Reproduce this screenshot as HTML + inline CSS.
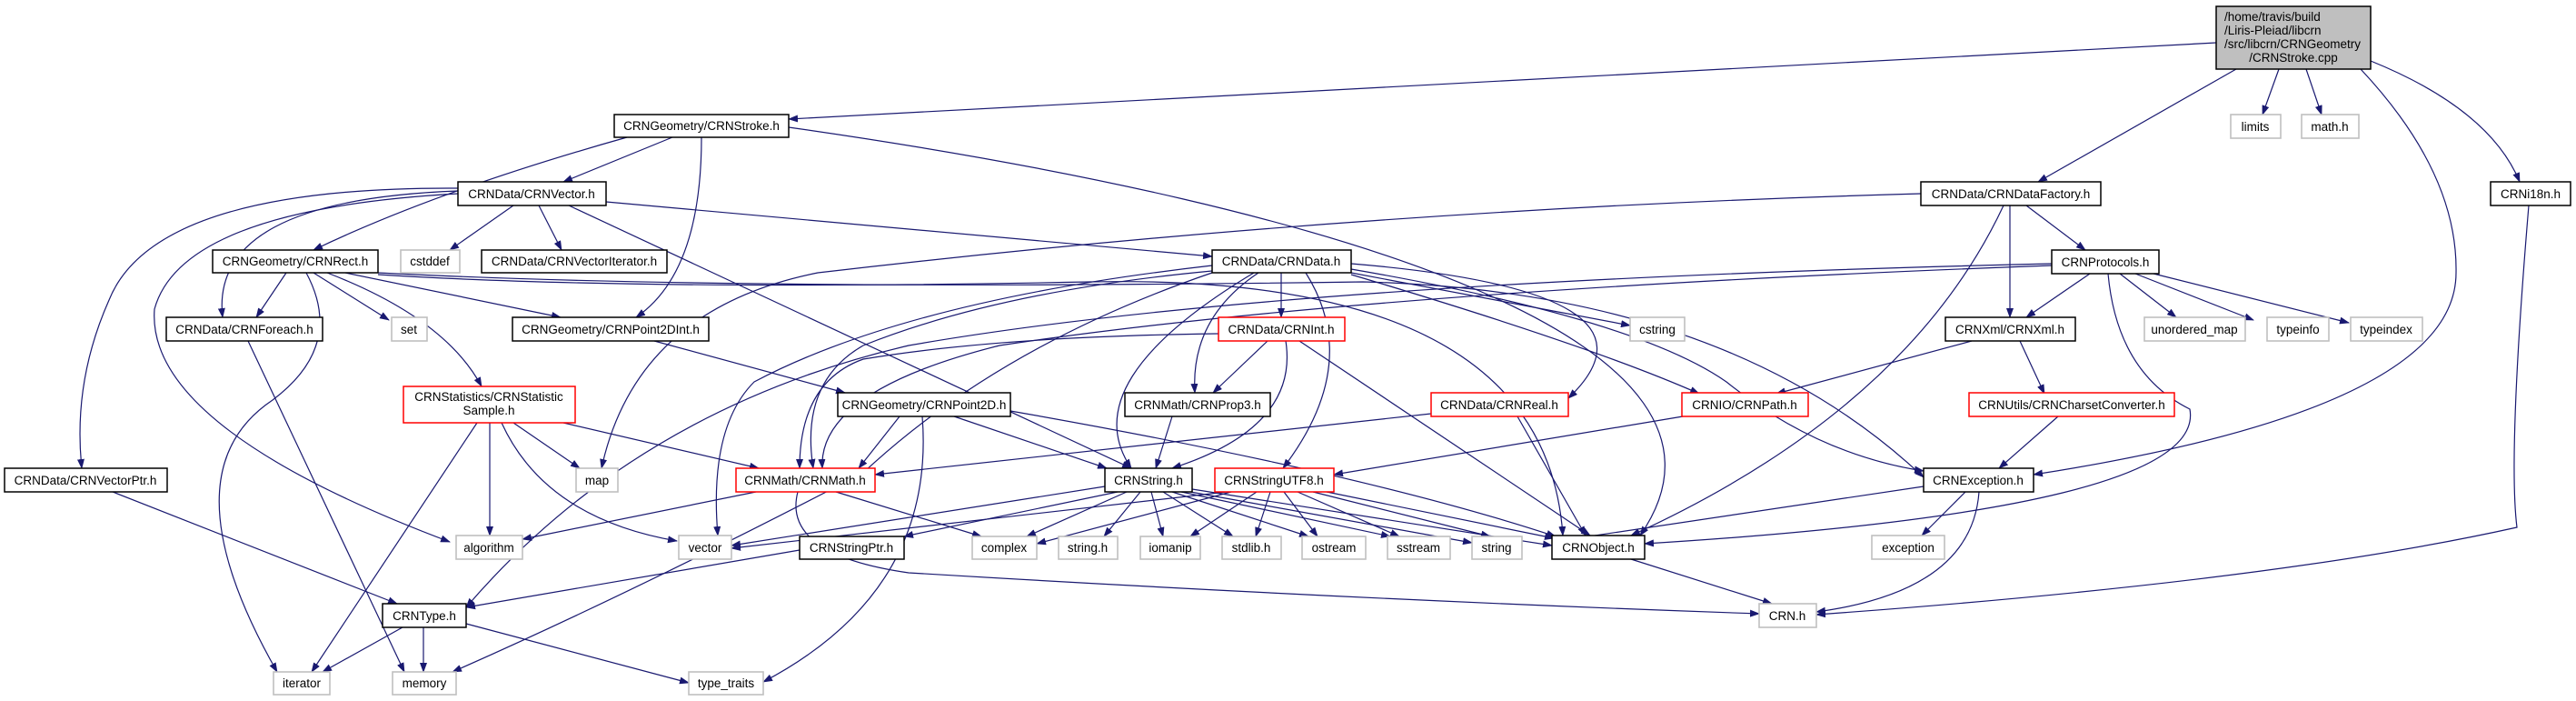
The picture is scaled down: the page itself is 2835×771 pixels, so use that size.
<!DOCTYPE html>
<html><head><meta charset="utf-8"><style>
html,body{margin:0;padding:0;background:#fff;}
svg{display:block;}
text{font-family:"Liberation Sans",sans-serif;font-size:13.5px;fill:#000;}
.e{fill:none;stroke:#191970;stroke-width:1.2;marker-end:url(#a);}
.b{fill:#fff;stroke:#000;stroke-width:1.5;}
.r{fill:#fff;stroke:#ff0000;stroke-width:1.5;}
.g{fill:#fff;stroke:#bfbfbf;stroke-width:1.6;}
</style></head><body>
<svg width="2835" height="771" viewBox="0 0 2835 771" xmlns="http://www.w3.org/2000/svg">
<defs><marker id="a" markerWidth="11" markerHeight="8" refX="10" refY="4" orient="auto" markerUnits="userSpaceOnUse"><polygon points="0,0 11,4 0,8" fill="#191970"/></marker></defs>

<!-- edges -->
<path class="e" d="M2439,47 L868,131"/>
<path class="e" d="M2461,76 L2243,200"/>
<path class="e" d="M2508,76 L2490,126"/>
<path class="e" d="M2538,76 L2555,126"/>
<path class="e" d="M2598,76 Q2705,190 2703,300 Q2703,450 2238,522"/>
<path class="e" d="M2609,67 Q2740,120 2773,200"/>

<path class="e" d="M740,151 L620,200"/>
<path class="e" d="M690,151 Q480,210 345,275"/>
<path class="e" d="M772,151 Q772,300 700,349"/>
<path class="e" d="M868,140 C1500,230 1950,380 1805,589"/>

<path class="e" d="M565,226 L495,275"/>
<path class="e" d="M593,226 L618,275"/>
<path class="e" d="M667,222 L1334,282"/>
<path class="e" d="M626,226 Q1000,400 1245,515"/>
<path class="e" d="M504,210 Q230,220 245,349"/>
<path class="e" d="M504,207 Q170,205 120,330 Q80,420 90,515"/>
<path class="e" d="M504,213 Q200,230 170,340 Q160,470 495,596"/>
<path class="e" d="M273,375 L445,739"/>

<path class="e" d="M315,300 L282,349"/>
<path class="e" d="M345,300 L428,352"/>
<path class="e" d="M380,300 L617,349"/>
<path class="e" d="M360,300 Q490,350 530,425"/>
<path class="e" d="M337,300 Q380,380 300,440 Q180,520 305,739"/>
<path class="e" d="M416,302 Q700,320 1200,310 Q1700,300 1720,589"/>
<path class="e" d="M416,300 Q800,320 1500,310 Q1900,320 2117,525"/>

<path class="e" d="M720,375 L930,432"/>

<path class="e" d="M525,465 L343,739"/>
<path class="e" d="M539,465 L539,589"/>
<path class="e" d="M565,465 L638,515"/>
<path class="e" d="M552,465 Q600,570 745,595"/>
<path class="e" d="M620,465 L835,515"/>

<path class="e" d="M124,541 L437,664"/>
<path class="e" d="M443,690 L355,739"/>
<path class="e" d="M466,690 L466,739"/>
<path class="e" d="M513,686 L758,751"/>

<path class="e" d="M832,541 L575,593"/>
<path class="e" d="M920,541 L1080,590"/>
<path class="e" d="M878,541 Q860,610 1000,630 Q1500,660 1936,675"/>
<path class="e" d="M880,605 L513,668"/>

<path class="e" d="M990,458 L945,515"/>
<path class="e" d="M1050,458 L1218,515"/>
<path class="e" d="M1015,458 Q1030,650 840,750"/>
<path class="e" d="M1112,452 Q1500,520 1712,590"/>

<path class="e" d="M1410,300 L1410,349"/>
<path class="e" d="M1385,300 Q1310,350 1315,432"/>
<path class="e" d="M1380,300 Q1180,420 1245,515"/>
<path class="e" d="M1437,300 Q1500,400 1412,515"/>
<path class="e" d="M1487,300 L1794,358"/>
<path class="e" d="M1487,290 Q1850,320 1726,438"/>
<path class="e" d="M1487,302 Q1750,380 1870,433"/>
<path class="e" d="M1487,296 Q1800,350 1900,420 Q2000,500 2117,518"/>
<path class="e" d="M1334,292 Q1000,330 830,420 Q780,470 790,589"/>
<path class="e" d="M1334,300 Q1100,380 950,520 Q700,650 498,739"/>
<path class="e" d="M1334,298 Q1100,320 950,380 Q880,420 895,515"/>
<path class="e" d="M2114,213 Q1500,230 900,300 Q700,340 662,515"/>

<path class="e" d="M1395,375 L1335,432"/>
<path class="e" d="M1415,375 Q1430,470 1290,515"/>
<path class="e" d="M1430,375 L1750,589"/>
<path class="e" d="M1341,367 Q1100,370 950,395 Q880,420 880,515"/>

<path class="e" d="M1290,458 L1272,515"/>
<path class="e" d="M1575,455 L963,522"/>
<path class="e" d="M1670,458 L1745,589"/>
<path class="e" d="M1852,458 L1468,522"/>

<path class="e" d="M2170,375 L1955,433"/>
<path class="e" d="M2223,375 L2250,433"/>
<path class="e" d="M2265,458 L2200,515"/>

<path class="e" d="M2300,301 L2230,349"/>
<path class="e" d="M2333,301 L2395,349"/>
<path class="e" d="M2350,301 L2480,352"/>
<path class="e" d="M2370,301 L2585,355"/>
<path class="e" d="M2320,301 Q2330,410 2410,450 Q2430,560 1810,598"/>
<path class="e" d="M2258,290 Q1400,310 1000,380 Q700,450 513,668"/>
<path class="e" d="M2258,292 Q1500,320 1100,380 Q900,430 905,515"/>

<path class="e" d="M2212,226 L2212,349"/>
<path class="e" d="M2230,226 L2295,275"/>
<path class="e" d="M2205,226 Q2100,450 1795,589"/>

<path class="e" d="M2783,226 Q2760,500 2770,580 Q2500,640 1999,676"/>

<path class="e" d="M2117,535 L1715,595"/>
<path class="e" d="M2163,541 L2115,589"/>
<path class="e" d="M2178,541 Q2170,650 1999,673"/>
<path class="e" d="M1795,615 L1950,664"/>

<path class="e" d="M1216,535 L805,600"/>
<path class="e" d="M1230,541 L995,590"/>
<path class="e" d="M1240,541 L1130,590"/>
<path class="e" d="M1255,541 L1215,590"/>
<path class="e" d="M1267,541 L1280,590"/>
<path class="e" d="M1280,541 L1357,590"/>
<path class="e" d="M1290,541 L1440,590"/>
<path class="e" d="M1300,541 L1530,590"/>
<path class="e" d="M1310,541 L1620,597"/>
<path class="e" d="M1312,538 L1708,600"/>

<path class="e" d="M1350,541 L805,603"/>
<path class="e" d="M1355,541 L1141,598"/>
<path class="e" d="M1383,541 L1310,590"/>
<path class="e" d="M1398,541 L1382,590"/>
<path class="e" d="M1413,541 L1450,590"/>
<path class="e" d="M1428,541 L1540,590"/>
<path class="e" d="M1445,541 L1640,590"/>
<path class="e" d="M1460,541 L1710,592"/>

<!-- nodes -->
<rect x="2439" y="7" width="170" height="69" fill="#bfbfbf" stroke="#000" stroke-width="1.5"/>
<text x="2448" y="23">/home/travis/build</text>
<text x="2448" y="38">/Liris-Pleiad/libcrn</text>
<text x="2448" y="53">/src/libcrn/CRNGeometry</text>
<text x="2524" y="68" text-anchor="middle">/CRNStroke.cpp</text>

<g text-anchor="middle">
<rect class="b" x="676" y="126" width="192" height="25"/><text x="772" y="143">CRNGeometry/CRNStroke.h</text>
<rect class="b" x="504" y="200" width="163" height="26"/><text x="585" y="218">CRNData/CRNVector.h</text>
<rect class="b" x="234" y="275" width="182" height="25"/><text x="325" y="292">CRNGeometry/CRNRect.h</text>
<rect class="g" x="441" y="275" width="65" height="25"/><text x="473" y="292">cstddef</text>
<rect class="b" x="530" y="275" width="204" height="25"/><text x="632" y="292">CRNData/CRNVectorIterator.h</text>
<rect class="b" x="183" y="349" width="172" height="26"/><text x="269" y="367">CRNData/CRNForeach.h</text>
<rect class="g" x="431" y="349" width="39" height="26"/><text x="450" y="367">set</text>
<rect class="b" x="564" y="349" width="216" height="26"/><text x="672" y="367">CRNGeometry/CRNPoint2DInt.h</text>
<rect class="r" x="444" y="425" width="189" height="40"/><text x="538" y="441">CRNStatistics/CRNStatistic</text><text x="538" y="456">Sample.h</text>
<rect class="b" x="5" y="515" width="179" height="26"/><text x="94" y="533">CRNData/CRNVectorPtr.h</text>
<rect class="g" x="634" y="515" width="46" height="26"/><text x="657" y="533">map</text>
<rect class="r" x="810" y="515" width="153" height="26"/><text x="886" y="533">CRNMath/CRNMath.h</text>
<rect class="g" x="502" y="589" width="73" height="26"/><text x="538" y="607">algorithm</text>
<rect class="g" x="747" y="589" width="58" height="26"/><text x="776" y="607">vector</text>
<rect class="b" x="880" y="590" width="115" height="25"/><text x="937" y="607">CRNStringPtr.h</text>
<rect class="b" x="421" y="664" width="92" height="26"/><text x="467" y="682">CRNType.h</text>
<rect class="g" x="301" y="739" width="62" height="25"/><text x="332" y="756">iterator</text>
<rect class="g" x="432" y="739" width="70" height="25"/><text x="467" y="756">memory</text>
<rect class="g" x="758" y="739" width="82" height="25"/><text x="799" y="756">type_traits</text>
<rect class="b" x="1334" y="275" width="153" height="25"/><text x="1410" y="292">CRNData/CRNData.h</text>
<rect class="r" x="1341" y="349" width="139" height="26"/><text x="1410" y="367">CRNData/CRNInt.h</text>
<rect class="g" x="1794" y="349" width="60" height="26"/><text x="1824" y="367">cstring</text>
<rect class="b" x="922" y="432" width="190" height="26"/><text x="1017" y="450">CRNGeometry/CRNPoint2D.h</text>
<rect class="b" x="1238" y="432" width="160" height="26"/><text x="1318" y="450">CRNMath/CRNProp3.h</text>
<rect class="r" x="1575" y="432" width="151" height="26"/><text x="1650" y="450">CRNData/CRNReal.h</text>
<rect class="r" x="1851" y="432" width="139" height="26"/><text x="1920" y="450">CRNIO/CRNPath.h</text>
<rect class="r" x="2167" y="432" width="226" height="26"/><text x="2280" y="450">CRNUtils/CRNCharsetConverter.h</text>
<rect class="b" x="2117" y="515" width="121" height="26"/><text x="2177" y="533">CRNException.h</text>
<rect class="b" x="1216" y="515" width="96" height="26"/><text x="1264" y="533">CRNString.h</text>
<rect class="r" x="1337" y="515" width="131" height="26"/><text x="1402" y="533">CRNStringUTF8.h</text>
<rect class="g" x="1070" y="590" width="71" height="25"/><text x="1105" y="607">complex</text>
<rect class="g" x="1165" y="590" width="65" height="25"/><text x="1197" y="607">string.h</text>
<rect class="g" x="1255" y="590" width="66" height="25"/><text x="1288" y="607">iomanip</text>
<rect class="g" x="1345" y="590" width="65" height="25"/><text x="1377" y="607">stdlib.h</text>
<rect class="g" x="1433" y="590" width="70" height="25"/><text x="1468" y="607">ostream</text>
<rect class="g" x="1527" y="590" width="69" height="25"/><text x="1561" y="607">sstream</text>
<rect class="g" x="1620" y="590" width="55" height="25"/><text x="1647" y="607">string</text>
<rect class="b" x="1708" y="589" width="102" height="26"/><text x="1759" y="607">CRNObject.h</text>
<rect class="g" x="2060" y="589" width="80" height="26"/><text x="2100" y="607">exception</text>
<rect class="g" x="1936" y="664" width="63" height="26"/><text x="1967" y="682">CRN.h</text>
<rect class="g" x="2455" y="126" width="55" height="26"/><text x="2482" y="144">limits</text>
<rect class="g" x="2533" y="126" width="63" height="26"/><text x="2564" y="144">math.h</text>
<rect class="b" x="2114" y="200" width="198" height="26"/><text x="2213" y="218">CRNData/CRNDataFactory.h</text>
<rect class="b" x="2741" y="200" width="88" height="26"/><text x="2785" y="218">CRNi18n.h</text>
<rect class="b" x="2258" y="275" width="118" height="26"/><text x="2317" y="293">CRNProtocols.h</text>
<rect class="b" x="2141" y="349" width="143" height="26"/><text x="2212" y="367">CRNXml/CRNXml.h</text>
<rect class="g" x="2360" y="349" width="111" height="26"/><text x="2415" y="367">unordered_map</text>
<rect class="g" x="2495" y="349" width="68" height="26"/><text x="2529" y="367">typeinfo</text>
<rect class="g" x="2587" y="349" width="79" height="26"/><text x="2626" y="367">typeindex</text>
</g>
</svg>
</body></html>
